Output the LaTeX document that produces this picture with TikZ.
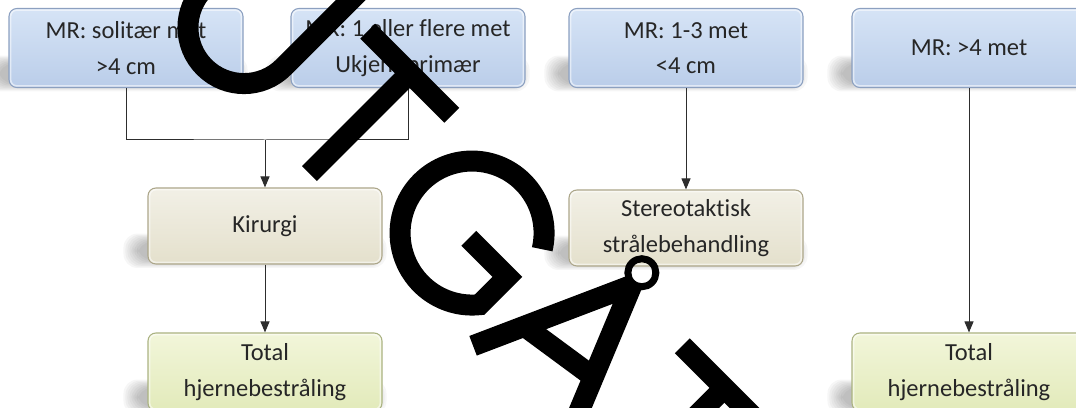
\documentclass[tikz,border=0pt]{standalone}
\usepackage{fontspec}
\newfontfamily\boxfont{Carlito}[Ligatures=NoCommon]
\usetikzlibrary{arrows.meta,backgrounds}
\definecolor{blueT}{RGB}{214,228,246}
\definecolor{blueM}{RGB}{198,216,240}
\definecolor{blueB}{RGB}{186,205,233}
\definecolor{blueE}{RGB}{140,160,192}
\definecolor{begT}{RGB}{242,240,230}
\definecolor{begM}{RGB}{236,233,218}
\definecolor{begB}{RGB}{228,224,204}
\definecolor{begE}{RGB}{172,166,138}
\definecolor{grnT}{RGB}{242,246,218}
\definecolor{grnM}{RGB}{235,241,200}
\definecolor{grnB}{RGB}{226,234,186}
\definecolor{grnE}{RGB}{170,178,130}
\definecolor{txt}{RGB}{38,38,38}
\definecolor{wire}{RGB}{45,45,45}
\newcommand\myboxshadow[1]{%
  \foreach \g in {14,12,10,8,6,4,2,0}{%
    \fill[black, opacity=0.035, rounded corners=14pt]
      ([xshift=-10pt-\g pt, yshift=5pt-0.6*\g pt]#1.south west) rectangle
      ([xshift=-10pt+\g pt, yshift=-16pt+0.6*\g pt]#1.east);
  }}
\newcommand\mybevel[1]{%
  \draw[white, opacity=0.55, line width=1.6pt, rounded corners=6pt]
    ([shift={(2.2pt,2.2pt)}]#1.south west) rectangle ([shift={(-2.2pt,-2.2pt)}]#1.north east);}
\begin{document}
\begin{tikzpicture}[x=1pt,y=1pt,
  box/.style={rounded corners=8pt, minimum width=234pt, inner sep=0pt, align=center,
    font=\boxfont\fontsize{24.5}{35.5}\selectfont, text=txt, line width=1.1pt},
  bluebox/.style={box, top color=blueT, middle color=blueM, bottom color=blueB, draw=blueE, minimum height=79pt},
  begbox/.style={box, top color=begT, middle color=begM, bottom color=begB, draw=begE, minimum height=76pt},
  grnbox/.style={box, top color=grnT, middle color=grnM, bottom color=grnB, draw=grnE, minimum height=78pt},
  wireline/.style={draw=wire, line width=1pt},
  arr/.style={wireline, -{Triangle[width=9pt,length=11pt]}},
  stamp/.style={draw=black, line width=21pt, line cap=butt, line join=miter}]
\useasboundingbox (0,0) rectangle (1076,407);
\clip (0,0) rectangle (1076,407);

% top row
\node[bluebox] (A) at (126,359) {MR: solitær met\\>4 cm};
\node[bluebox] (B) at (408,359) {MR: 1 eller flere met\\Ukjent primær};
\node[bluebox] (C) at (686,359) {MR: 1-3 met\\<4 cm};
\node[bluebox] (D) at (969,359) {MR: >4 met};

% middle row
\node[begbox] (K) at (265,181) {Kirurgi};
\node[begbox] (S) at (686,179) {Stereotaktisk\\strålebehandling};

% bottom row
\node[grnbox] (TL) at (265,35) {Total\\hjernebestråling};
\node[grnbox] (TR) at (969,35) {Total\\hjernebestråling};

\begin{scope}[on background layer]
  \myboxshadow{A}\myboxshadow{B}\myboxshadow{C}\myboxshadow{D}
  \myboxshadow{K}\myboxshadow{S}\myboxshadow{TL}\myboxshadow{TR}
\end{scope}
\mybevel{A}\mybevel{B}\mybevel{C}\mybevel{D}
\mybevel{K}\mybevel{S}\mybevel{TL}\mybevel{TR}

% connectors
\coordinate (j) at (265,267);
\draw[wireline] (A.south) |- (j) -| (B.south);
\draw[arr] (j) -- (K.north);
\draw[arr] (K.south) -- (TL.north);
\draw[arr] (C.south) -- (S.north);
\draw[arr] (D.south) -- (TR.north);

% stamp UTGÅTT
\begin{scope}[shift={(0,407)}, rotate=-45, stamp]
  \draw (136,275) -- (136,153) arc[start angle=180,end angle=360,radius=56] -- (248,275);
  \draw (282,238) -- (401,238);
  \draw (341.6,238) -- (341.6,96);
  \draw (498.6,169) ++(32:72) arc[start angle=32,end angle=321,radius=72] -- (554.6,163) -- (500,163);
  \draw (648.5,245) -- (579,90);
  \draw (648.5,245) -- (712,90);
  \draw (600,140) -- (686,153);
  \draw[line width=7pt] (646.7,261) circle[radius=14];
  \draw (727,238) -- (846,238);
  \draw (786.5,238) -- (786.5,96);
  \draw (860,238) -- (979,238);
  \draw (919.5,238) -- (919.5,96);
\end{scope}
\end{tikzpicture}
\end{document}
